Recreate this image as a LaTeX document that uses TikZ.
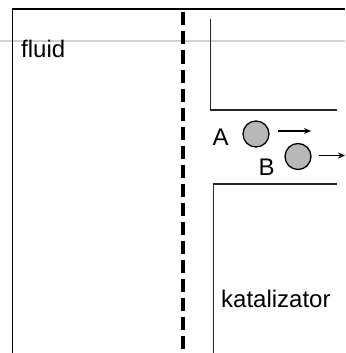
\documentclass[tikz,border=0pt]{standalone}
\usepackage{fontspec}
\setmainfont{Liberation Sans}
\usepackage{tikz}
\usetikzlibrary{arrows.meta, positioning, calc}
\definecolor{PoreGray}{gray}{0.15}
\definecolor{MolGray}{gray}{0.72}

\tikzset{
  molecule/.style={circle, draw=black, fill=MolGray, line width=1.3pt, minimum size=26pt, inner sep=0pt},
  lbl/.style={inner sep=0pt, anchor=base west, font=\fontsize{24}{28}\selectfont},
}

\begin{document}
\begin{tikzpicture}[x=1pt, y=-1pt, >={Stealth[length=7pt, width=6pt]}]
        \useasboundingbox (0,0) rectangle (345,353);
        % Light gray rule across the page
        \draw [gray!35, line width=2.7pt] (0,41) -- (345,41);

        % Outer frame (fluid region)
        \draw [line width=1.6pt] (12.5,353) |- (345,9);
        \node [lbl] (fluid) at (21,58) {fluid};

        % Boundary layer
        \draw [dashed, line width=3.2pt, dash pattern=on 13pt off 6pt] (183,12.5) -- (183,353);

        % Pore walls of the catalyst
        \draw [PoreGray, line width=1.4pt] (210.5,19.5) |- (337,110);
        \draw [PoreGray, line width=1.4pt] (337,184) -| (213.5,353);
        \node [lbl] (kat) at (221,307) {katalizator};

        % Molecules moving into the pore
        \node [molecule] (molA) at (256,134) {};
        \node [molecule] (molB) at (298,156.5) {};
        \node [lbl] (labA) at (212.5,145) {A};
        \node [lbl] (labB) at (258.5,175) {B};

        \coordinate (tailA) at (278,131);
        \coordinate (headA) at (311,131);
        \coordinate (tailB) at (319,155.5);
        \coordinate (headB) at (345,155.5);
        \draw [->, line width=1.2pt] (tailA) -- (headA);
        \draw [->, line width=1.2pt] (tailB) -- (headB);
    \end{tikzpicture}
\end{document}
